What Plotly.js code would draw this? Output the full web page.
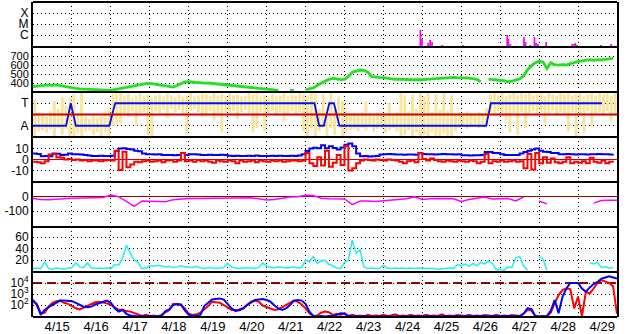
<!DOCTYPE html>
<html><head><meta charset="utf-8">
<script src="https://cdn.plot.ly/plotly-3.0.1.min.js"></script>
<style>html,body{margin:0;padding:0;background:#fff}#chart{width:628px;height:334px}</style>
</head><body><div id="chart"></div>
<script>
// ---------------- data ----------------
const dayLabels = ['4/15','4/16','4/17','4/18','4/19','4/20','4/21','4/22','4/23','4/24','4/25','4/26','4/27','4/28','4/29'];
const dayBoundaries = [1,2,3,4,5,6,7,8,9,10,11,12,13,14];
const labelOffset = 0.62;
const step = 0.1;      // days between samples of the dense series
const dstStep = 0.2;   // days between Dst samples

// X-ray flares (log10 W/m2)
const xrayDays = [9.48, 9.95, 9.99, 10.15, 10.20, 10.25, 10.51, 10.53, 11.05, 11.40, 12.18, 12.21, 12.26, 12.61, 12.65, 12.77, 12.88, 12.92, 12.97, 13.18, 13.85, 13.90, 13.93, 13.97, 14.59, 14.85];
const xrayLogFlux = [-7.0, -5.54, -6.36, -6.73, -6.45, -6.64, -6.91, -7.0, -6.91, -7.0, -6.0, -6.36, -6.82, -6.18, -6.64, -6.91, -6.18, -6.73, -6.82, -6.64, -6.82, -6.82, -6.73, -6.91, -6.91, -6.82];
const xrayFloor = -7.09;
const xrayClassVals = [-6, -5, -4];
const xrayClassText = ['C', 'M', 'X'];

// Solar wind speed (km/s)
const windSpeed = [
 359,364,368,375,378,374,379,372,362,356,
 348,340,335,332,328,331,326,322,318,315,
 318,326,335,345,352,360,367,376,385,392,
 396,390,384,375,367,360,355,372,395,412,
 414,408,405,403,398,400,395,392,386,382,
 378,374,368,364,358,352,350,345,340,334,
 330,326,323,320,null,null,320,318,null,null,
 325,335,345,372,398,420,440,452,445,438,
 441,470,520,530,544,540,520,470,463,462,
 459,452,446,441,444,440,441,436,438,433,
 436,440,444,450,446,452,455,458,462,460,
 463,458,454,450,440,414,null,444,440,436,
 433,425,414,420,435,444,480,545,590,625,
 640,632,560,625,605,598,603,600,615,630,
 637,645,655,660,652,660,656,665,668,674];

// Sector (T = +1, A = -1)
const sectorDays  = [0, 0.85, 0.97, 1.10, 1.96, 2.11, 7.23, 7.35, 7.47, 7.61, 7.73, 7.87, 11.64, 11.76, 14.61];
const sectorState = [-1, -1, 1, -1, -1, 1, 1, -1, -1, 1, 1, -1, -1, 1, 1];
const sectorRef = 0;
const phiLow = [
 -2.0,-1.5,-1.4,-1.6,-1.3,-2.0,-1.2,-1.8,-1.3,-2.0,-1.9,-1.7,-2.0,-1.5,-1.4,-1.8,-1.6,-2.0,-1.5,-2.0,-1.0,-0.8,
 -0.8,0.1,-0.2,0.3,-1.0,0.1,0.2,-1.8,-2.0,0.3,0.1,0.4,-0.3,0.5,0.2,0.4,0.0,-1.6,0.3,0.5,0.2,-0.2,0.0,0.3,-0.5,0.1,-1.6,0.2,0.0,0.3,-0.4,0.2,0.4,0.1,-1.6,-1.2,0.2,-1.5,0.1,0.3,0.0,0.2,-0.6,0.1,0.3,0.0,0.2,-1.5,-2.0,-1.2,
 -2.0,-1.5,-1.0,-2.0,-1.2,-1.8,-0.5,-2.0,-1.6,-1.4,-1.3,-1.5,-1.2,-1.4,-1.0,-1.5,-1.3,-1.2,-1.6,-1.4,-1.2,-1.5,-2.0,-1.8,-1.4,-2.0,-1.6,-2.0,-1.8,-2.0,-1.6,-1.9,-2.0,-1.7,-1.9,-2.0,-1.5,-1.2,-1.0,-1.3,-1.1,-1.0,-1.2,-0.9,-1.0,
 0.2,0.1,0.3,0.0,-0.5,-1.6,0.1,-1.8,0.2,-1.2,0.1,0.3,0.0,0.2,-0.8,0.1,0.3,0.0,0.2,0.1,-1.5,0.2,-2.0,0.0,-1.6,0.3,-1.0,0.1,0.2,0.0,0.3,-0.6,0.1];
const phiHigh = [
 1.4,0.2,0.0,-0.2,0.3,1.2,0.5,1.6,0.8,1.5,1.8,0.0,1.9,-0.2,-0.4,0.0,-0.3,-0.2,0.3,0.5,1.8,1.9,
 1.9,1.6,1.8,1.5,1.7,1.9,1.6,1.8,1.5,1.7,1.8,1.6,1.9,1.7,1.5,1.8,1.6,1.7,1.9,1.6,1.7,1.9,1.8,1.6,1.9,1.7,1.8,1.6,1.9,1.7,1.8,1.6,1.7,1.9,1.8,1.9,1.6,1.7,1.5,1.8,1.6,1.7,1.9,1.6,1.8,1.7,1.9,1.8,1.6,1.9,
 1.9,0.5,1.8,0.2,1.9,0.4,1.6,1.2,0.3,0.1,0.1,0.0,0.2,1.2,0.1,-0.1,0.2,0.1,0.0,1.0,0.1,0.2,1.9,1.7,0.3,1.8,0.5,1.9,1.6,1.9,0.2,1.8,0.4,1.9,0.3,1.7,0.1,0.2,0.1,0.3,0.1,0.0,0.2,0.1,0.6,
 1.8,1.9,1.7,1.9,1.6,1.8,1.9,1.7,1.9,1.8,1.9,1.7,1.8,1.9,1.6,1.9,1.8,1.7,1.9,1.8,1.9,1.7,1.8,1.9,1.6,1.8,1.9,1.7,1.9,1.8,1.9,1.7,1.9];

// IMF (nT)
const btTotal = [
 5.4,5.0,3.0,3.2,3.0,5.4,5.2,4.0,4.4,5.4,
 4.8,4.8,4.6,4.0,3.6,3.3,3.3,3.4,3.2,3.3,
 3.5,7.8,10.0,10.2,9.6,9.0,8.0,7.6,5.4,4.8,
 4.8,4.6,4.8,4.2,4.0,4.0,3.8,4.2,6.0,4.0,
 4.8,4.8,4.6,4.2,4.2,4.4,4.0,4.2,4.4,4.0,
 3.4,3.3,3.5,3.3,3.2,3.4,3.3,3.6,3.3,3.2,
 3.3,3.4,3.3,3.5,3.3,3.2,3.4,3.3,3.6,4.8,
 7.8,10.0,10.6,10.3,13.0,10.2,12.0,10.5,9.0,11.0,
 13.5,14.5,12.0,5.5,3.0,3.2,2.8,3.0,3.2,4.6,
 4.8,5.0,4.8,4.6,4.5,4.4,4.6,4.5,4.4,6.0,
 5.0,4.8,4.8,4.6,4.8,5.0,4.8,4.8,4.6,4.8,
 3.8,3.8,3.6,3.8,3.8,4.0,6.8,6.8,6.0,6.0,
 4.8,4.2,4.0,4.0,4.0,5.4,6.8,8.0,9.0,10.0,
 8.0,7.0,6.8,6.0,6.0,4.8,4.8,5.0,4.8,4.6,
 4.8,4.8,4.6,4.8,4.8,5.0,4.8,4.8,4.6,4.8];
const bzGsm = [
 -2.0,-2.5,-3.5,-1.5,4.5,5.0,2.0,1.5,0.0,0.5,
 -0.5,0.0,-1.0,-0.5,-1.5,-1.0,-0.8,-1.5,-1.0,-0.5,
 -1.0,8.0,-9.5,7.0,-7.0,-4.5,-2.0,-2.5,-1.5,-1.0,
 -2.0,-1.5,-1.0,-2.5,-1.0,-0.5,-2.0,-1.0,6.0,-1.5,
 -1.0,-2.0,-0.5,-1.5,-1.0,-2.0,-3.0,-1.0,-1.5,-2.0,
 -1.0,-1.5,-3.5,-1.0,-2.0,-1.5,-1.0,-2.5,-1.0,-1.5,
 -2.0,-1.0,-1.5,-1.0,-2.0,-1.5,-1.0,-1.0,-1.5,-1.0,
 6.0,-3.5,-6.0,2.0,-5.5,8.0,-6.5,-3.0,4.0,-5.0,
 12.0,-10.0,-8.0,-3.5,-1.0,0.0,-0.5,-1.0,0.0,-0.5,
 -1.0,0.0,-0.5,-1.0,-2.0,-3.5,-1.5,-1.0,-2.5,6.0,
 0.5,-1.0,1.0,-0.5,-1.5,-2.0,-1.0,-1.5,-2.0,-1.0,
 -1.5,-2.0,-1.0,-1.5,-3.5,-2.0,5.0,-3.5,-1.5,-2.0,
 -1.0,-2.0,-1.5,-1.0,-2.0,-1.5,-8.0,5.0,-9.0,6.0,
 -3.5,2.0,-3.0,1.0,-2.5,-3.5,-2.0,2.0,-3.5,-2.0,
 -3.0,-1.5,-3.5,1.5,-2.0,-3.0,-1.0,-3.5,-2.0,-2.5];

// Dst (nT)
const dstIndex = [
 -12,-20,-22,-16,-14,-10,-10,-8,-8,-5,
 12,0,-32,-68,-30,-30,-30,-35,-22,-16,
 -12,-12,-12,-10,-12,-10,-10,-8,-8,-14,
 -23,-20,-10,-2,0,10,8,-10,-14,-14,
 -16,-55,-30,-30,-33,-28,-23,-18,-14,0,
 -20,-14,-12,-12,-14,-34,-20,-12,-2,-16,
 -14,-12,-30,-2,null,-30,-50,null,null,null,
 null,null,-45,-26,-24,-24];

// Cyan activity index
const activityIndex = [
 5,6,5,17,5,4,6,5,4,6,
 7,15,8,7,15,6,5,6,5,6,
 5,12,11,23,46,32,20,15,5,6,
 10,9,11,10,8,9,7,8,10,8,
 8,7,9,6,5,7,6,5,6,7,
 14,8,6,5,6,7,6,5,7,15,
 9,7,6,8,7,6,7,8,6,7,
 20,17,26,14,18,20,12,10,6,5,
 16,20,55,32,38,8,5,6,5,5,
 11,6,5,6,5,6,5,6,5,6,
 5,5,6,5,4,5,5,6,5,12,
 10,13,9,14,10,16,13,18,14,3,
 3,2,8,7,24,26,10,2,null,null,
 26,22,2,null,null,null,null,null,null,null,
 null,null,null,15,13,16,7,8,6,7];

// Particle flux (log10)
const protonLowLog = [
 2.3,2.1,1.25,1.3,1.85,2.2,2.35,2.4,2.2,2.1,
 1.9,1.7,1.6,1.75,1.95,2.1,2.25,2.3,2.25,2.15,
 2.0,1.8,1.55,1.6,1.45,1.4,1.25,1.1,1.0,1.1,
 1.0,1.05,0.95,1.1,1.3,1.55,2.1,2.05,2.0,1.7,
 1.2,1.1,1.15,1.3,1.6,1.9,2.3,2.25,2.2,2.0,
 1.8,1.55,1.55,1.5,1.7,2.0,2.3,2.4,2.3,1.95,
 1.8,1.7,1.55,1.6,1.8,2.0,2.2,2.4,2.3,2.05,
 1.7,1.25,1.0,1.05,1.3,1.4,1.35,1.1,1.2,1.1,
 1.25,1.0,1.1,1.0,1.05,0.95,1.1,1.0,1.05,1.0,
 1.1,1.0,1.05,1.15,1.0,1.05,1.0,1.1,1.0,1.05,
 1.0,1.1,1.0,1.05,1.0,1.15,1.0,1.05,1.0,1.1,
 1.05,1.0,1.1,1.0,1.05,1.0,1.1,1.05,1.0,1.1,
 1.0,1.05,1.0,1.1,1.05,1.0,1.2,1.55,1.5,1.0,
 0.95,1.0,0.95,1.3,2.15,2.9,3.35,3.5,3.45,1.7,
 2.75,1.0,3.2,3.05,3.5,4.0,4.27,4.1,4.0,3.7,
 1.2];
const protonHighLog = [
 2.46,2.0,1.1,1.55,1.8,2.0,2.2,2.4,2.42,2.4,
 2.35,2.2,2.05,1.85,1.8,1.85,2.05,2.2,2.3,2.4,
 2.2,1.7,1.4,1.55,1.2,1.05,1.0,0.95,1.0,0.95,
 1.0,0.95,1.0,1.0,1.45,1.6,2.0,2.1,2.05,1.5,
 1.1,1.05,1.0,1.1,1.9,2.2,2.5,2.55,2.6,2.5,
 2.1,1.7,1.45,1.55,1.7,2.0,2.2,2.45,2.5,2.55,
 2.45,2.3,1.95,1.7,1.55,1.7,2.0,2.4,2.45,2.4,
 2.1,1.4,1.0,0.95,1.0,0.95,1.0,1.0,1.1,1.25,
 1.2,1.0,0.95,1.0,0.95,1.0,0.95,0.95,1.0,0.95,
 0.95,1.0,0.95,0.95,1.0,0.95,0.95,1.0,0.95,0.95,
 0.95,1.0,0.95,0.95,1.0,0.95,0.95,0.95,1.0,0.95,
 0.95,1.0,0.95,0.95,1.0,0.95,0.95,1.0,0.95,0.95,
 1.0,0.95,0.95,1.0,0.95,1.0,1.2,1.7,1.65,1.0,
 0.95,0.95,1.0,1.5,2.45,1.25,2.75,3.5,4.0,4.0,
 4.0,3.5,3.2,3.6,3.9,4.1,4.4,4.5,4.6,4.5,
 4.4];
const protonAlertLog = 4;
const protonTickVals = [2, 3, 4];

// ---------------- drawing ----------------
const xOf = (arr, dt, off) => arr.map((_, i) => i * dt + (off || 0));
const N = 7;
const dom = k => [k / N, (k + 1) / N];
const gridDash = '1px,3px';
const FONT = 'Liberation Sans, Arial, Helvetica, sans-serif';

function yax(k, range, vals, texts, extra) {
  return Object.assign({
    domain: dom(k), range: range, tickmode: 'array', tickvals: vals, ticktext: texts,
    showgrid: true, gridcolor: '#000', griddash: gridDash, gridwidth: 1,
    zeroline: false, showline: true, linecolor: '#000', linewidth: 2, mirror: true,
    ticks: '', anchor: 'x', fixedrange: true, automargin: false,
    tickfont: {family: FONT, size: 12, color: '#000'}
  }, extra || {});
}

const traces = [
  // P1 x-ray
  {type: 'bar', x: xrayDays, y: xrayLogFlux.map(v => v - xrayFloor), base: xrayFloor,
   width: 0.045, marker: {color: '#FF00FF', line: {width: 0}}, xaxis: 'x', yaxis: 'y7', hoverinfo: 'skip'},
  // P2 speed
  {type: 'scatter', mode: 'lines', x: xOf(windSpeed, step), y: windSpeed,
   line: {color: '#22E022', width: 2.8}, xaxis: 'x', yaxis: 'y6', hoverinfo: 'skip'},
  // P3 sector scatter (yellow)
  {type: 'bar', x: xOf(phiLow, step, 0.05), y: phiHigh.map((h, i) => h - phiLow[i]), base: phiLow,
   width: 0.075, marker: {color: '#F9E59C', line: {width: 0}}, xaxis: 'x', yaxis: 'y5', hoverinfo: 'skip'},
  {type: 'scatter', mode: 'lines', x: sectorDays, y: sectorState,
   line: {color: '#0010F0', width: 1.8}, xaxis: 'x', yaxis: 'y5', hoverinfo: 'skip'},
  // P4 IMF
  {type: 'scatter', mode: 'lines', x: xOf(btTotal, step), y: btTotal,
   line: {color: '#0000FF', width: 2, shape: 'hv'}, xaxis: 'x', yaxis: 'y4', hoverinfo: 'skip'},
  {type: 'scatter', mode: 'lines', x: xOf(bzGsm, step), y: bzGsm,
   line: {color: '#FF0000', width: 2, shape: 'hv'}, xaxis: 'x', yaxis: 'y4', hoverinfo: 'skip'},
  // P5 Dst
  {type: 'scatter', mode: 'lines', x: xOf(dstIndex, dstStep), y: dstIndex,
   line: {color: '#FF00FF', width: 1.5}, xaxis: 'x', yaxis: 'y3', hoverinfo: 'skip'},
  // P6 cyan
  {type: 'scatter', mode: 'lines', x: xOf(activityIndex, step), y: activityIndex,
   line: {color: '#22F0F0', width: 1.5}, xaxis: 'x', yaxis: 'y2', hoverinfo: 'skip'},
  // P7 particles
  {type: 'scatter', mode: 'lines', x: xOf(protonLowLog, step), y: protonLowLog,
   line: {color: '#FF0000', width: 2}, xaxis: 'x', yaxis: 'y', hoverinfo: 'skip'},
  {type: 'scatter', mode: 'lines', x: xOf(protonHighLog, step), y: protonHighLog,
   line: {color: '#0000FF', width: 2}, xaxis: 'x', yaxis: 'y', hoverinfo: 'skip'}
];

const shapes = [];
for (let k = 0; k <= N; k++) {
  shapes.push({type: 'line', xref: 'paper', yref: 'paper', x0: 0, x1: 1, y0: k / N, y1: k / N,
               line: {color: '#000', width: 2}, layer: 'above'});
}
shapes.push({type: 'line', xref: 'paper', yref: 'y5', x0: 0, x1: 1, y0: sectorRef, y1: sectorRef,
             line: {color: '#CC0000', width: 2}, layer: 'above'});
shapes.push({type: 'line', xref: 'paper', yref: 'y', x0: 0, x1: 1, y0: protonAlertLog, y1: protonAlertLog,
             line: {color: '#A00000', width: 2, dash: '9px,5px'}, layer: 'below'});

const layout = {
  width: 628, height: 334,
  margin: {l: 33, r: 11, t: 2, b: 17, pad: 0},
  paper_bgcolor: '#fff', plot_bgcolor: '#fff',
  font: {family: FONT, size: 13, color: '#000'},
  showlegend: false, barmode: 'overlay',
  xaxis: {
    range: [0, 15], anchor: 'y', tickmode: 'array',
    tickvals: dayLabels.map((_, i) => i + labelOffset), ticktext: dayLabels,
    showgrid: false, zeroline: false, showline: false, ticks: '', fixedrange: true, automargin: false,
    tickfont: {family: FONT, size: 13, color: '#000'},
    minor: {tickmode: 'array', tickvals: dayBoundaries, showgrid: true, gridcolor: '#000',
            griddash: gridDash, gridwidth: 1, ticks: ''}
  },
  yaxis:  yax(0, [0.91, 5.0], protonTickVals, protonTickVals.map(v => '10<sup>' + v + '</sup>')),
  yaxis2: yax(1, [-1, 78], [20, 40, 60], ['20', '40', '60']),
  yaxis3: yax(2, [-212, 103], [-100, 0], ['-100', '0'], {zeroline: true, zerolinecolor: '#990000', zerolinewidth: 1}),
  yaxis4: yax(3, [-20.5, 20.5], [-10, 0, 10], ['-10', '0', '10'], {zeroline: true, zerolinecolor: '#CC0000', zerolinewidth: 1}),
  yaxis5: yax(4, [-2, 2], [-1, 1], ['A', 'T']),
  yaxis6: yax(5, [300, 800], [400, 500, 600, 700], ['400', '500', '600', '700'],
              {tickfont: {family: FONT, size: 11, color: '#000'}}),
  yaxis7: yax(6, [xrayFloor, xrayFloor + 4.09], xrayClassVals, xrayClassText),
  shapes: shapes
};

Plotly.newPlot('chart', traces, layout, {staticPlot: true, displayModeBar: false});
</script>
</body></html>
